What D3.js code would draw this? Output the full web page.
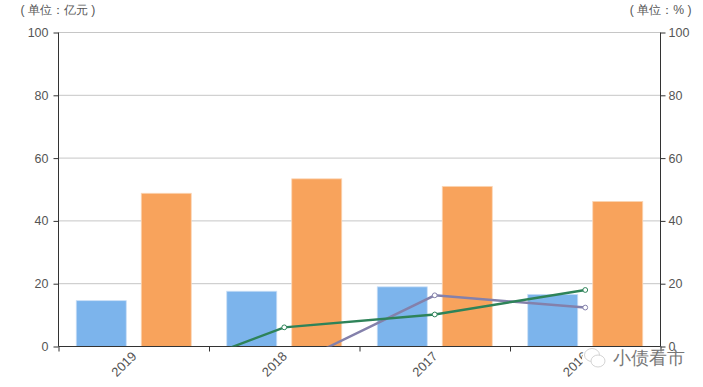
<!DOCTYPE html>
<html><head><meta charset="utf-8">
<script src="https://cdn.jsdelivr.net/npm/d3@7"></script>
<style>html,body{margin:0;padding:0;background:#fff}svg{display:block}text{font-family:"Liberation Sans",Arial,sans-serif}</style>
</head><body><div id="c"></div>
<script>
const categories=["2019","2018","2017","2016"];
const leftTicks=[0,20,40,60,80,100];
const rightTicks=[0,20,40,60,80,100];
const blueValues=[14.6,17.6,19,16.6];
const orangeValues=[48.8,53.4,51,46.2];
const greenValues=[-12,6.1,10.2,18];
const purpleValues=[-40,-7,16.3,12.4];
const leftUnit="( 单位：亿元 )";
const rightUnit="( 单位：% )";
const watermark="小债看市";

const W=703,H=387,L=58.5,R=660.5,T=32.5,B=346.5;
const svg=d3.select("#c").append("svg").attr("width",W).attr("height",H);
const x=d3.scaleBand().domain(categories).range([L,R]);
const y=d3.scaleLinear().domain([0,100]).range([B,T]);
const y2=d3.scaleLinear().domain([0,100]).range([B,T]);
const barW=50,gap=15;

svg.append("defs").append("clipPath").attr("id","clip").append("rect")
  .attr("x",L).attr("y",T-8).attr("width",R-L).attr("height",B-T+8);

// grid
svg.append("g").selectAll("line").data(leftTicks.filter(d=>d>0)).join("line")
  .attr("x1",L).attr("x2",R).attr("y1",d=>y(d)).attr("y2",d=>y(d))
  .attr("stroke","#c6c6c6").attr("stroke-width",1);

// bars
const cx=d=>x(d)+x.bandwidth()/2;
svg.append("g").selectAll("rect").data(categories).join("rect")
  .attr("x",d=>cx(d)-gap/2-barW).attr("width",barW)
  .attr("y",(d,i)=>y(blueValues[i])).attr("height",(d,i)=>B-y(blueValues[i]))
  .attr("fill","#7cb4ec").attr("stroke","#c8def6").attr("stroke-width",0.8);
svg.append("g").selectAll("rect").data(categories).join("rect")
  .attr("x",d=>cx(d)+gap/2).attr("width",barW)
  .attr("y",(d,i)=>y(orangeValues[i])).attr("height",(d,i)=>B-y(orangeValues[i]))
  .attr("fill","#f8a35c").attr("stroke","#fbd6b6").attr("stroke-width",0.8);

// axes
const axL=svg.append("g").attr("transform",`translate(${L},0)`).call(d3.axisLeft(y).tickValues(leftTicks).tickSize(5).tickPadding(5));
const axR=svg.append("g").attr("transform",`translate(${R},0)`).call(d3.axisRight(y2).tickValues(rightTicks).tickSize(5).tickPadding(3));
const axB=svg.append("g").attr("transform",`translate(0,${B})`).call(
  d3.axisBottom(d3.scaleLinear().domain([0,4]).range([L,R])).ticks(4).tickFormat("").tickSize(5));
[axL,axR,axB].forEach(a=>{a.selectAll("path").attr("stroke","#333").attr("stroke-width",1);a.selectAll(".tick line").attr("stroke","#333");
  a.selectAll("text").attr("fill","#555").attr("font-size",12.5).attr("font-family",'"Liberation Sans",Arial,sans-serif');});
axL.select(".domain").attr("d",`M${0},${T}V${B}`);
axR.select(".domain").attr("d",`M${0},${T}V${B}`);
axB.select(".domain").attr("d",`M${L},0H${R}`);

// category labels
svg.append("g").selectAll("text").data(categories).join("text")
  .attr("transform",d=>`translate(${cx(d)-3},${B+4}) rotate(-45)`)
  .attr("text-anchor","end").attr("dy","0.71em").attr("fill","#555").attr("font-size",13).text(d=>d);

// lines
const series=[{v:purpleValues,c:"#8481ab"},{v:greenValues,c:"#2e8359"}];
const lineG=svg.append("g").attr("clip-path","url(#clip)");
series.forEach(s=>{
  const gen=d3.line().x((d,i)=>cx(categories[i])).y(d=>y2(d));
  lineG.append("path").attr("d",gen(s.v)).attr("fill","none").attr("stroke",s.c).attr("stroke-width",2.4);
  lineG.selectAll(null).data(s.v).join("circle").attr("cx",(d,i)=>cx(categories[i])).attr("cy",d=>y2(d))
    .attr("r",2.4).attr("fill","#fff").attr("stroke",s.c).attr("stroke-width",1);
});

// units
svg.append("text").attr("x",20.5).attr("y",14).attr("fill","#555").attr("font-size",12.2).attr("font-family",'"Noto Sans CJK SC"').text(leftUnit);
svg.append("text").attr("x",691.5).attr("y",14).attr("text-anchor","end").attr("fill","#555").attr("font-size",12.2).attr("font-family",'"Noto Sans CJK SC"').text(rightUnit);

// watermark
const wm=svg.append("g");
wm.append("ellipse").attr("cx",595).attr("cy",359).attr("rx",13).attr("ry",12).attr("fill","#fff");
wm.append("ellipse").attr("cx",592).attr("cy",355).attr("rx",7.5).attr("ry",6.5).attr("fill","#fff").attr("stroke","#d4d4d4").attr("stroke-width",1);
wm.append("ellipse").attr("cx",598).attr("cy",361).attr("rx",7).attr("ry",6).attr("fill","#fff").attr("stroke","#d4d4d4").attr("stroke-width",1);
wm.append("text").attr("x",613).attr("y",364).attr("fill","#777").attr("font-size",17.5).attr("font-family",'"Noto Sans CJK SC"').attr("font-weight",300).text(watermark);
</script></body></html>
